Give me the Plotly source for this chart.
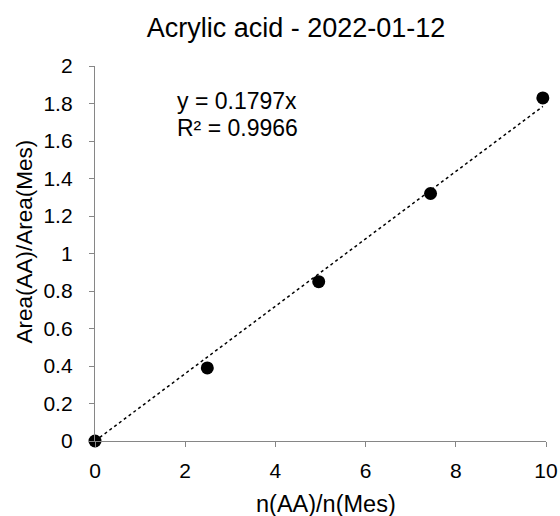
import plotly.graph_objects as go

x_vals = [0, 2.49, 4.96, 7.44, 9.93]
y_vals = [0, 0.39, 0.85, 1.32, 1.83]
slope = 0.1797
title_text = "Acrylic acid - 2022-01-12"
x_title = "n(AA)/n(Mes)"
y_title = "Area(AA)/Area(Mes)"
eq_lines = ["y = 0.1797x", "R² = 0.9966"]

fit_x = [0, max(x_vals)]
fit_y = [slope * v for v in fit_x]

W, H = 560, 516
L, R, T, B = 95, 14, 66, 75
PW, PH = W - L - R, H - T - B

fig = go.Figure()
fig.add_trace(go.Scatter(x=fit_x, y=fit_y, mode="lines",
                         line=dict(color="black", width=1.5, dash="dot"),
                         showlegend=False, hoverinfo="skip", cliponaxis=False))
fig.add_trace(go.Scatter(x=x_vals, y=y_vals, mode="markers",
                         marker=dict(color="black", size=13),
                         showlegend=False, cliponaxis=False))

axis_common = dict(showgrid=False, zeroline=False, showline=True,
                   linecolor="#868686", linewidth=1.3, ticks="outside",
                   ticklen=5, tickcolor="#868686", automargin=False,
                   tickfont=dict(size=21, color="black"))

def px_x(px):
    return (px - L) / PW

def px_y(py):
    return (H - B - py) / PH

fig.update_layout(
    width=W, height=H, autosize=False,
    paper_bgcolor="white", plot_bgcolor="white",
    font=dict(family="Liberation Sans, Arial, sans-serif", color="black"),
    margin=dict(l=L, r=R, t=T, b=B, pad=0, autoexpand=False),
    title=dict(text=title_text, x=296 / W, xanchor="center",
               y=1 - 27.5 / H, yanchor="middle", font=dict(size=27)),
    xaxis=dict(range=[0, 10], dtick=2, tick0=0, ticklabelstandoff=6,
               **axis_common),
    yaxis=dict(range=[0, 2], dtick=0.2, tick0=0, tickformat="~g",
               ticklabelstandoff=12, **axis_common),
    annotations=[
        dict(text=x_title, xref="paper", yref="paper",
             x=px_x(326), y=px_y(504), xanchor="center", yanchor="middle",
             showarrow=False, font=dict(size=23.5, color="black")),
        dict(text=y_title, xref="paper", yref="paper", textangle=-90,
             x=px_x(24), y=px_y(241.5), xanchor="center", yanchor="middle",
             showarrow=False, font=dict(size=22.5, color="black")),
        dict(text=eq_lines[0], xref="paper", yref="paper",
             x=px_x(175), y=px_y(101),
             xanchor="left", yanchor="middle", align="left",
             showarrow=False, font=dict(size=23, color="black")),
        dict(text=eq_lines[1], xref="paper", yref="paper",
             x=px_x(175), y=px_y(128),
             xanchor="left", yanchor="middle", align="left",
             showarrow=False, font=dict(size=23, color="black")),
    ],
)

fig.write_html("out.html", config={"responsive": False, "displayModeBar": False},
               post_script="document.body.style.margin='0px';")
